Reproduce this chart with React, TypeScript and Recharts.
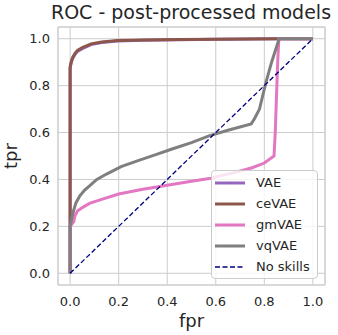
import React from 'react';
import { LineChart, Line, XAxis, YAxis, CartesianGrid, Legend, ReferenceArea } from 'recharts';

// ROC curves
const vaeFpr = [0, 0, 0.004, 0.01, 0.02, 0.03, 0.05, 0.086, 0.13, 0.195, 0.3, 0.45, 0.6, 0.87, 1.0];
const vaeTpr = [0, 0.875, 0.895, 0.915, 0.933, 0.946, 0.958, 0.975, 0.984, 0.99, 0.994, 0.996, 0.998, 1.0, 1.0];

const ceFpr = [0, 0, 0.004, 0.01, 0.02, 0.03, 0.05, 0.086, 0.13, 0.195, 0.3, 0.45, 0.6, 0.87, 1.0];
const ceTpr = [0, 0.88, 0.9, 0.92, 0.938, 0.95, 0.962, 0.978, 0.986, 0.992, 0.995, 0.997, 0.998, 1.0, 1.0];

const gmFpr = [0, 0, 0.015, 0.02, 0.03, 0.05, 0.08, 0.12, 0.2, 0.3, 0.4, 0.5, 0.58, 0.68, 0.75, 0.8, 0.84, 0.845, 0.85, 0.855, 0.86, 1.0];
const gmTpr = [0, 0.2, 0.22, 0.245, 0.265, 0.28, 0.298, 0.312, 0.338, 0.358, 0.375, 0.392, 0.405, 0.43, 0.45, 0.47, 0.5, 0.6, 0.75, 0.9, 1.0, 1.0];

const vqFpr = [0, 0, 0.008, 0.015, 0.024, 0.04, 0.06, 0.08, 0.11, 0.15, 0.21, 0.28, 0.35, 0.42, 0.5, 0.575, 0.65, 0.746, 0.76, 0.78, 0.807, 0.83, 0.861, 1.0];
const vqTpr = [0, 0.2, 0.24, 0.27, 0.3, 0.33, 0.355, 0.373, 0.4, 0.423, 0.455, 0.48, 0.505, 0.53, 0.557, 0.587, 0.61, 0.637, 0.66, 0.7, 0.815, 0.9, 1.0, 1.0];

const noSkillFpr = [0, 1];
const noSkillTpr = [0, 1];

const ticks = [0, 0.2, 0.4, 0.6, 0.8, 1.0];

const toPoints = (fpr: number[], tpr: number[]) => fpr.map((f, i) => ({ fpr: f, tpr: tpr[i] }));

const series = [
  { name: 'VAE', color: '#9467bd', data: toPoints(vaeFpr, vaeTpr), dashed: false },
  { name: 'ceVAE', color: '#8c564b', data: toPoints(ceFpr, ceTpr), dashed: false },
  { name: 'gmVAE', color: '#e377c2', data: toPoints(gmFpr, gmTpr), dashed: false },
  { name: 'vqVAE', color: '#7f7f7f', data: toPoints(vqFpr, vqTpr), dashed: false },
  { name: 'No skills', color: '#000080', data: toPoints(noSkillFpr, noSkillTpr), dashed: true },
];

const FONT = '"DejaVu Sans", sans-serif';
const TEXT = '#262626';

function LegendBox() {
  return (
    <div
      style={{
        boxSizing: 'border-box',
        width: 107,
        height: 109,
        border: '1px solid #cccccc',
        borderRadius: 4,
        background: 'rgba(255,255,255,0.8)',
        paddingTop: 1,
        fontFamily: FONT,
        fontSize: 13,
        color: TEXT,
      }}
    >
      {series.map(s => (
        <div key={s.name} style={{ height: 21, display: 'flex', alignItems: 'center' }}>
          <svg width={30} height={6} style={{ marginLeft: 3, marginRight: 11 }}>
            <line
              x1={0}
              y1={3}
              x2={30}
              y2={3}
              stroke={s.color}
              strokeWidth={s.dashed ? 1.3 : 3}
              strokeDasharray={s.dashed ? '5 2.5' : undefined}
            />
          </svg>
          <span>{s.name}</span>
        </div>
      ))}
    </div>
  );
}

export default function App() {
  return (
    <div style={{ position: 'absolute', left: 0, top: 0, width: 338, height: 335, background: '#fff' }}>
      <div
        style={{
          position: 'absolute',
          left: 191,
          top: 0,
          transform: 'translateX(-50%)',
          whiteSpace: 'nowrap',
          fontFamily: FONT,
          fontSize: 19,
          lineHeight: '24px',
          color: TEXT,
        }}
      >
        ROC - post-processed models
      </div>
      <div
        style={{
          position: 'absolute',
          left: 11,
          top: 156,
          transform: 'translate(-50%, -50%) rotate(-90deg)',
          whiteSpace: 'nowrap',
          fontFamily: FONT,
          fontSize: 18,
          lineHeight: '20px',
          color: TEXT,
        }}
      >
        tpr
      </div>
      <LineChart width={338} height={335} margin={{ top: 27, right: 13, left: 0, bottom: 0 }}>
        <CartesianGrid stroke="#cccccc" strokeWidth={1} />
        <ReferenceArea x1={-0.05} x2={1.05} y1={-0.05} y2={1.05} fill="none" stroke="#cccccc" strokeWidth={1} />
        <XAxis
          dataKey="fpr"
          type="number"
          domain={[-0.05, 1.05]}
          ticks={ticks}
          tickFormatter={v => Number(v).toFixed(1)}
          height={50}
          axisLine={false}
          tickLine={false}
          tickSize={0}
          tickMargin={12}
          tick={{ fontSize: 13, fill: TEXT, fontFamily: FONT }}
          label={{ value: 'fpr', position: 'insideBottom', offset: 8, fontSize: 18, fill: TEXT, fontFamily: FONT }}
          allowDuplicatedCategory={false}
        />
        <YAxis
          type="number"
          domain={[-0.05, 1.05]}
          ticks={ticks}
          tickFormatter={v => Number(v).toFixed(1)}
          width={58}
          axisLine={false}
          tickLine={false}
          tickSize={0}
          tickMargin={8}
          tick={{ fontSize: 13, fill: TEXT, fontFamily: FONT }}
        />
        {series.map(s => (
          <Line
            key={s.name}
            data={s.data}
            dataKey="tpr"
            name={s.name}
            type="linear"
            stroke={s.color}
            strokeWidth={s.dashed ? 1.3 : 3}
            strokeDasharray={s.dashed ? '5 2.5' : undefined}
            dot={false}
            activeDot={false}
            isAnimationActive={false}
          />
        ))}
        <Legend
          layout="vertical"
          align="center"
          verticalAlign="middle"
          wrapperStyle={{ left: 211, top: 170, width: 107, height: 109 }}
          content={() => <LegendBox />}
        />
      </LineChart>
    </div>
  );
}
